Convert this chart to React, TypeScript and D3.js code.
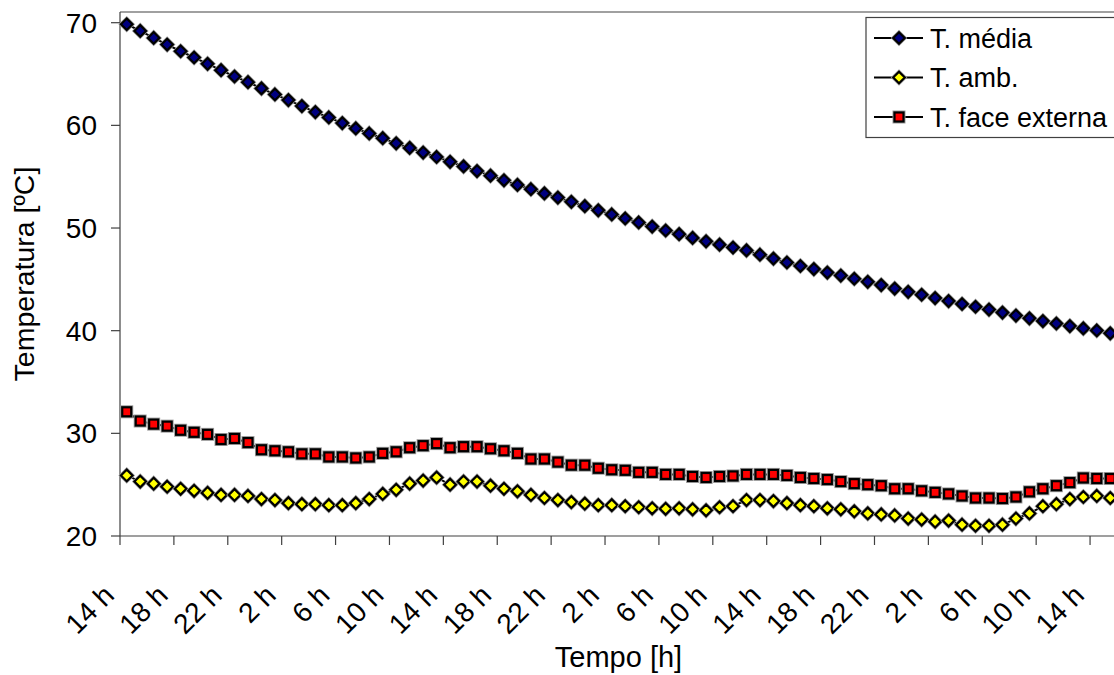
import React from "react";
import * as d3 from "d3";

const tMedia = [
  69.85, 69.2, 68.52, 67.87, 67.22, 66.61, 65.99, 65.38, 64.76, 64.21,
  63.6, 63.01, 62.46, 61.88, 61.29, 60.77, 60.22, 59.7, 59.21, 58.75,
  58.25, 57.8, 57.35, 56.92, 56.45, 56.0, 55.55, 55.1, 54.65, 54.2,
  53.78, 53.37, 52.97, 52.55, 52.13, 51.72, 51.32, 50.93, 50.54, 50.14,
  49.76, 49.4, 49.04, 48.7, 48.38, 48.1, 47.82, 47.4, 47.02, 46.64,
  46.3, 46.0, 45.66, 45.37, 45.06, 44.76, 44.44, 44.1, 43.78, 43.5,
  43.18, 42.88, 42.6, 42.33, 42.06, 41.76, 41.47, 41.2, 40.94, 40.7,
  40.45, 40.22, 40.02, 39.74,
];

const tAmb = [
  25.9, 25.3, 25.1, 24.8, 24.6, 24.4, 24.2, 24.0, 24.0, 23.9,
  23.6, 23.5, 23.2, 23.1, 23.1, 23.0, 23.0, 23.2, 23.6, 24.1,
  24.5, 25.1, 25.4, 25.7, 25.0, 25.3, 25.3, 24.9, 24.6, 24.35,
  24.0, 23.7, 23.5, 23.3, 23.15, 23.0, 23.0, 22.9, 22.8, 22.7,
  22.65, 22.7, 22.6, 22.5, 22.8, 22.9, 23.5, 23.5, 23.4, 23.2,
  23.0, 22.9, 22.7, 22.6, 22.4, 22.2, 22.1, 22.0, 21.7, 21.6,
  21.4, 21.5, 21.1, 21.0, 21.0, 21.1, 21.7, 22.2, 22.9, 23.1,
  23.6, 23.8, 23.9, 23.7,
];

const tFace = [
  32.1, 31.2, 30.9, 30.7, 30.3, 30.1, 29.9, 29.4, 29.5, 29.1,
  28.4, 28.3, 28.2, 28.0, 28.0, 27.7, 27.7, 27.6, 27.7, 28.05,
  28.2, 28.6, 28.8, 29.0, 28.6, 28.7, 28.7, 28.5, 28.3, 28.05,
  27.5, 27.5, 27.2, 26.9, 26.9, 26.6, 26.45, 26.4, 26.2, 26.2,
  26.0, 26.0, 25.8, 25.7, 25.8, 25.85, 26.0, 26.0, 26.0, 25.9,
  25.7, 25.6, 25.5, 25.3, 25.1, 25.0, 24.9, 24.6, 24.6, 24.4,
  24.25, 24.1, 23.9, 23.7, 23.7, 23.65, 23.8, 24.3, 24.6, 24.9,
  25.2, 25.65, 25.6, 25.6,
];

const hourLabels = [
  "14 h", "18 h", "22 h", "2 h", "6 h", "10 h", "14 h", "18 h", "22 h", "2 h",
  "6 h", "10 h", "14 h", "18 h", "22 h", "2 h", "6 h", "10 h", "14 h",
];
const labelStep = 4;
const yTicks = [20, 30, 40, 50, 60, 70];

const seriesNames = ["T. média", "T. amb.", "T. face externa"];

const FONT = "'Liberation Sans', Arial, sans-serif";

function Marker({ kind, x, y }: { kind: string; x: number; y: number }) {
  if (kind === "square") {
    const s = 9;
    return (
      <g>
        <rect x={x - s / 2} y={y - s / 2} width={s} height={s} fill="none" stroke="#9a9a9a" strokeWidth={4} />
        <rect x={x - s / 2} y={y - s / 2} width={s} height={s} fill="#ff0000" stroke="#000" strokeWidth={2.2} />
      </g>
    );
  }
  const r = 5.8;
  const fill = kind === "diamondY" ? "#ffff00" : "#000080";
  const d = `M${x},${y - r}L${x + r},${y}L${x},${y + r}L${x - r},${y}Z`;
  return (
    <g>
      <path d={d} fill="none" stroke="#9a9a9a" strokeWidth={3.6} />
      <path d={d} fill={fill} stroke="#000" strokeWidth={2.2} />
    </g>
  );
}

export default function App() {
  const W = 1114;
  const H = 675;
  const left = 120;
  const right = 1117;
  const top = 12;
  const bottom = 536;
  const n = tMedia.length;

  const x = d3.scaleBand<number>().domain(d3.range(n)).range([left, right]).padding(0);
  const bw = x.bandwidth();
  const cx = (i: number) => (x(i) as number) + bw / 2;
  const y = d3.scaleLinear().domain([20, 70]).range([bottom, 22.7]);

  const line = d3
    .line<number>()
    .x((_, i) => cx(i))
    .y((d) => y(d));

  const series = [
    { name: seriesNames[0], data: tMedia, kind: "diamondN" },
    { name: seriesNames[1], data: tAmb, kind: "diamondY" },
    { name: seriesNames[2], data: tFace, kind: "square" },
  ];

  const tickIdx = d3.range(0, n + 1, labelStep);

  return (
    <svg
      width={W}
      height={H}
      style={{ position: "absolute", left: 0, top: 0, background: "#fff" }}
      fontFamily={FONT}
    >
      <rect x={0} y={0} width={W} height={H} fill="#fff" />
      <line x1={left} x2={right} y1={top} y2={top} stroke="#808080" strokeWidth={1.6} />
      <line x1={left} x2={left} y1={top} y2={bottom} stroke="#404040" strokeWidth={1.2} />
      <line x1={left} x2={right} y1={bottom} y2={bottom} stroke="#404040" strokeWidth={1.2} />

      {yTicks.map((t) => (
        <g key={"y" + t}>
          <line x1={left - 9} x2={left} y1={y(t)} y2={y(t)} stroke="#404040" strokeWidth={1.2} />
          <text x={97} y={y(t) + 10} textAnchor="end" fontSize={28} fill="#000">
            {t}
          </text>
        </g>
      ))}

      {tickIdx.map((i) => {
        const tx = i < n ? (x(i) as number) : right;
        return (
          <line key={"xt" + i} x1={tx} x2={tx} y1={bottom} y2={bottom + 9} stroke="#404040" strokeWidth={1.2} />
        );
      })}

      {hourLabels.map((lab, k) => {
        const i = k * labelStep;
        const ax = cx(i) - 11;
        const ay = 597;
        return (
          <text
            key={"xl" + k}
            transform={`translate(${ax},${ay}) rotate(-45)`}
            textAnchor="end"
            fontSize={28}
            fill="#000"
          >
            {lab}
          </text>
        );
      })}

      {series.map((s) => (
        <g key={s.name}>
          <path d={line(s.data) || ""} fill="none" stroke="#000" strokeWidth={2} />
          {s.data.map((v, i) => (
            <Marker key={i} kind={s.kind} x={cx(i)} y={y(v)} />
          ))}
        </g>
      ))}

      <text
        transform={`translate(34,${(top + bottom) / 2}) rotate(-90)`}
        textAnchor="middle"
        fontSize={28.5}
        fill="#000"
      >
        Temperatura [ºC]
      </text>
      <text x={(left + right) / 2} y={667} textAnchor="middle" fontSize={29} fill="#000">
        Tempo [h]
      </text>

      <rect x={866} y={17.5} width={270} height={120} fill="#fff" stroke="#404040" strokeWidth={1.2} />
      {series.map((s, k) => {
        const ly = 38 + k * 39.5;
        return (
          <g key={"lg" + k}>
            <line x1={874} x2={923} y1={ly} y2={ly} stroke="#000" strokeWidth={2} />
            <Marker kind={s.kind} x={899} y={ly} />
            <text x={930} y={ly + 9.5} fontSize={27} fill="#000">
              {s.name}
            </text>
          </g>
        );
      })}
    </svg>
  );
}
